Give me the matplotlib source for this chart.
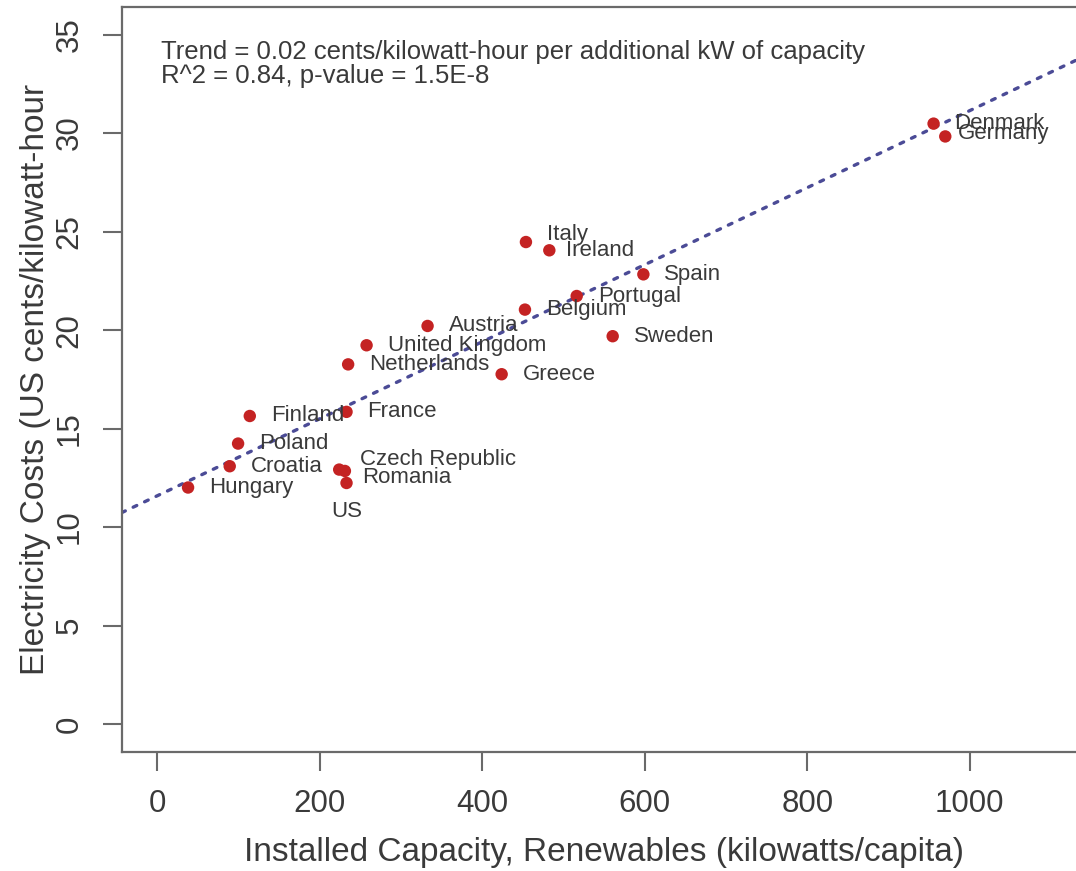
import matplotlib

matplotlib.use("Agg")

import matplotlib.pyplot as plt
import numpy as np

plt.rcParams["font.family"] = ["Liberation Sans", "DejaVu Sans"]

# data
countries = [
    "Denmark", "Germany", "Italy", "Ireland", "Spain", "Portugal", "Belgium",
    "Sweden", "Austria", "United Kingdom", "Netherlands", "Greece", "Finland",
    "France", "Poland", "Croatia", "Czech Republic", "US", "Romania", "Hungary",
]
capacity = [
    955.6, 970.0, 453.7, 482.5, 598.3, 516.2, 452.5,
    560.5, 332.6, 257.5, 234.8, 423.8, 113.7,
    232.8, 99.3, 89.0, 223.8, 230.8, 232.8, 37.7,
]
cost = [
    30.48, 29.83, 24.47, 24.05, 22.83, 21.73, 21.04,
    19.69, 20.21, 19.23, 18.26, 17.76, 15.64,
    15.85, 14.24, 13.09, 12.92, 12.85, 12.24, 12.01,
]
annotation_lines = [
    "Trend = 0.02 cents/kilowatt-hour per additional kW of capacity",
    "R^2 = 0.84, p-value = 1.5E-8",
]
x_ticks = [0, 200, 400, 600, 800, 1000]
y_ticks = [0, 5, 10, 15, 20, 25, 30, 35]

# label placement (pixels from the dot): default right of the point
label_offsets = {
    "Italy": (21, 8),
    "Ireland": (17, 0),
    "Germany": (13, 3),
    "Czech Republic": (21, 10),
    "Romania": (16, 5),
}

FG = "#3a3a3a"
SPINE = "#6a6a6a"

fig = plt.figure(figsize=(10.76, 8.71), dpi=100)
W, H = 1076, 871
left, right, top, bottom = 121.7, 1086.6, 7.0, 751.7
ax = fig.add_axes([left / W, 1 - bottom / H, (right - left) / W, (bottom - top) / H])

ax.set_xlim(-44, 1144)
ax.set_ylim(-1.4, 36.4)

# least squares trend across the whole panel
slope, intercept = np.polyfit(capacity, cost, 1)
ax.axline((0, intercept), slope=slope, color="#4b4b96", lw=2.4,
          linestyle=(0, (1.2, 2.6)), dash_capstyle="round", zorder=1)

ax.scatter(capacity, cost, s=80, color="#c42323", edgecolors="none", zorder=2)

for name, x, y in zip(countries, capacity, cost):
    if name == "US":
        ax.annotate(name, (x, y), xytext=(2, -41), textcoords="offset pixels",
                    ha="center", va="center", fontsize=16, color=FG)
        continue
    dx, dy = label_offsets.get(name, (21, 0))
    ax.annotate(name, (x, y), xytext=(dx, dy), textcoords="offset pixels",
                ha="left", va="center", fontsize=16, color=FG)

ax.text(0.0404, 0.9298, annotation_lines[0], transform=ax.transAxes,
        fontsize=18.5, color=FG, va="baseline")
ax.text(0.0404, 0.8976, annotation_lines[1], transform=ax.transAxes,
        fontsize=18.5, color=FG, va="baseline")

ax.set_xticks(x_ticks)
ax.set_yticks(y_ticks)
ax.tick_params(direction="out", length=13.7, width=1.5, color=SPINE,
               labelsize=22.5, labelcolor=FG, pad=13)
for lab in ax.get_yticklabels():
    lab.set_rotation(90)
    lab.set_va("center")

for sp in ax.spines.values():
    sp.set_color(SPINE)
    sp.set_linewidth(1.6)

ax.set_xlabel("Installed Capacity, Renewables (kilowatts/capita)",
              fontsize=24, color=FG, va="center")
ax.xaxis.set_label_coords(0.5, -0.135)
ax.set_ylabel("Electricity Costs (US cents/kilowatt-hour",
              fontsize=24, color=FG, va="center")
ax.yaxis.set_label_coords(-0.089, 0.5)

fig.savefig("out.png", dpi=100)
